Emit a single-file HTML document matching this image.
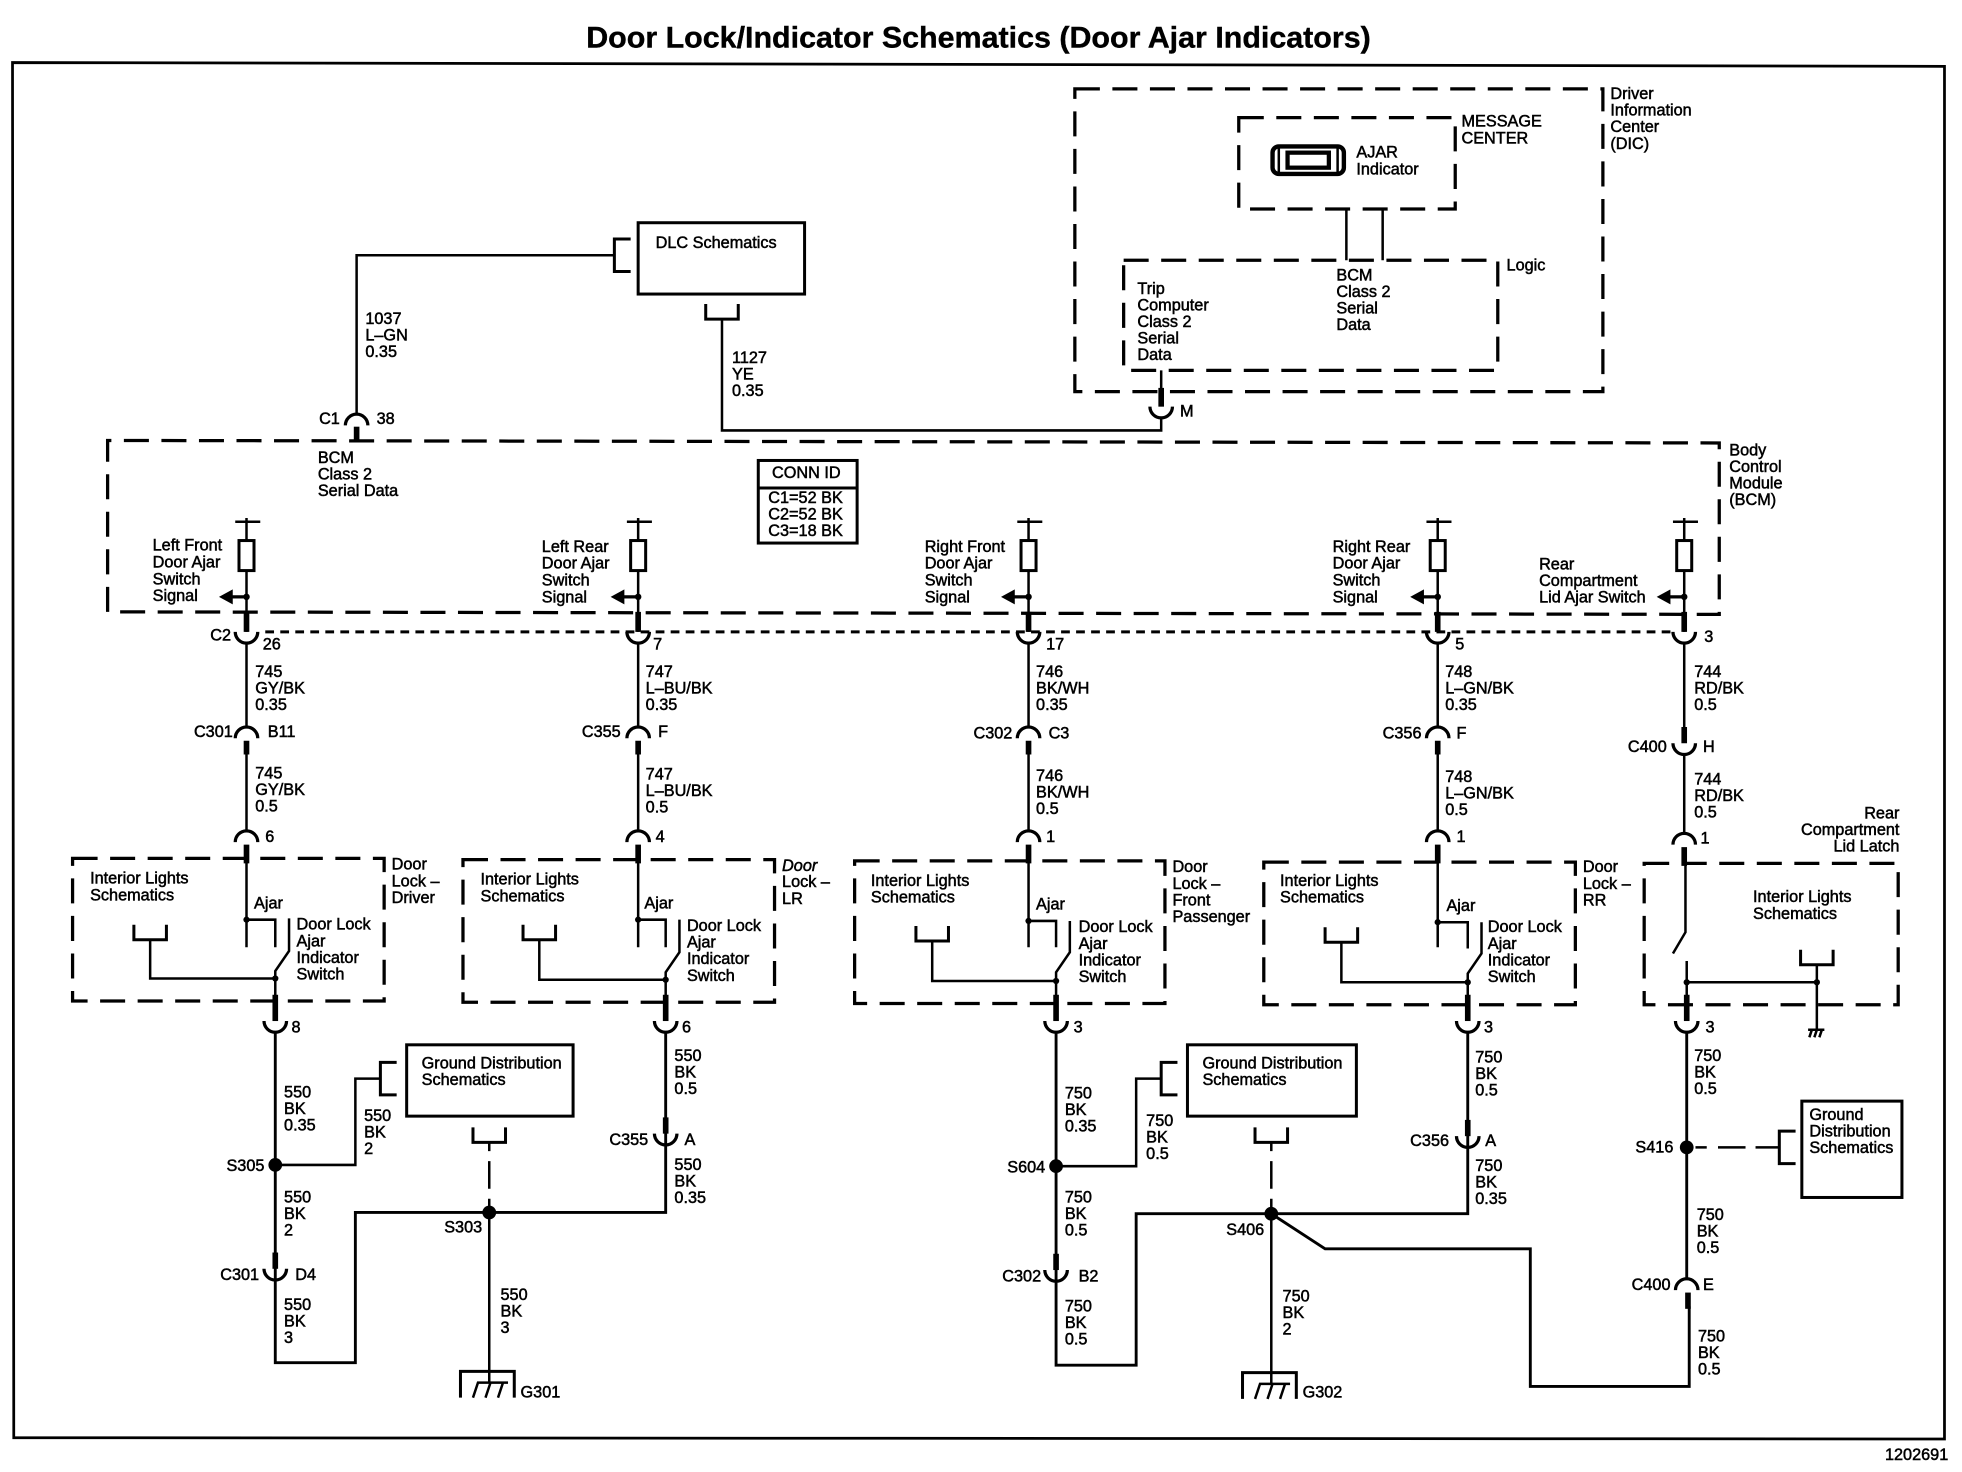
<!DOCTYPE html>
<html lang="en">
<head>
<meta charset="utf-8">
<title>Door Lock/Indicator Schematics (Door Ajar Indicators)</title>
<style>
html,body{margin:0;padding:0;background:#fff}
svg{display:block}
text{font-family:"Liberation Sans",Arial,sans-serif;font-size:13px;fill:#000;stroke:#000;stroke-width:.4}
.w{fill:none;stroke:#000;stroke-width:2}
.t{fill:none;stroke:#000;stroke-width:4.5}
.d{fill:none;stroke:#000;stroke-width:2.6;stroke-dasharray:20 10}
.c{fill:none;stroke:#000;stroke-width:2.6}
.b{fill:none;stroke:#000;stroke-width:2.4}
</style>
</head>
<body>
<svg xmlns="http://www.w3.org/2000/svg" width="1962" height="1472" viewBox="0 0 1568 1176.4">
<defs>
<path id="arch" class="c" d="M-9 0A9 9 0 0 1 9 0"/>
<path id="cup" class="c" d="M-9 0A9 9 0 0 0 9 0"/>
<g id="fuse">
<path class="w" d="M-9 0H11M0 -3V15M0 39V88"/>
<rect class="b" x="-6" y="15" width="12" height="24" fill="#fff"/>
<path class="t" style="stroke-width:2.6" d="M-12 60H0"/>
<path d="M-22 60L-11 54V66Z"/>
<circle cx="0" cy="60" r="2.6"/>
<path class="t" d="M0 72V88"/>
</g>
<path id="ubr" class="b" d="M-13 0V12H13V0"/>
<path id="lbr" class="b" d="M13 -13H0V13H13"/>
<g id="gnd">
<path class="b" d="M0 21V0H43V21"/>
<path class="w" d="M10 21L14 9H38M20 21L24 9M30 21L34 9"/>
</g>
</defs>

<text x="782" y="38" text-anchor="middle" textLength="627" lengthAdjust="spacingAndGlyphs" style="font-size:23.5px;font-weight:bold;stroke-width:.3">Door Lock/Indicator Schematics (Door Ajar Indicators)</text>
<path d="M10 50L1554 53V1150L11 1149Z" fill="none" stroke="#000" stroke-width="2.2"/>

<!-- DIC -->
<rect class="d" x="859" y="71" width="422" height="242"/>
<rect class="d" x="990" y="94" width="173" height="73"/>
<rect class="d" x="898" y="208" width="299" height="88"/>
<path class="w" d="M1076 167V208M1105 167V208"/>
<rect x="1017" y="117" width="57" height="22" rx="5" fill="none" stroke="#000" stroke-width="3.5"/>
<rect x="1029" y="122" width="33" height="12" fill="none" stroke="#000" stroke-width="3.4"/>
<path class="w" d="M1022 118V138M1069 118V138"/>
<text x="1287" y="79">Driver<tspan x="1287" dy="13.3">Information</tspan><tspan x="1287" dy="13.3">Center</tspan><tspan x="1287" dy="13.3">(DIC)</tspan></text>
<text x="1168" y="101">MESSAGE<tspan x="1168" dy="13.5">CENTER</tspan></text>
<text x="1084" y="126">AJAR<tspan x="1084" dy="13.3">Indicator</tspan></text>
<text x="1204" y="216">Logic</text>
<text x="1068" y="224">BCM<tspan x="1068" dy="13.2">Class 2</tspan><tspan x="1068" dy="13.2">Serial</tspan><tspan x="1068" dy="13.2">Data</tspan></text>
<text x="909" y="235">Trip<tspan x="909" dy="13.2">Computer</tspan><tspan x="909" dy="13.2">Class 2</tspan><tspan x="909" dy="13.2">Serial</tspan><tspan x="909" dy="13.2">Data</tspan></text>

<!-- M connector and 1127 -->
<path class="w" d="M928 296V312"/><path class="t" d="M928 310V325"/>
<use href="#cup" x="928" y="325"/>
<path class="w" d="M928 334V344H577V256"/>
<use href="#ubr" x="577" y="243"/>
<text x="943" y="333">M</text>
<text x="585" y="290">1127<tspan x="585" dy="13.2">YE</tspan><tspan x="585" dy="13.2">0.35</tspan></text>

<!-- DLC -->
<rect class="b" x="510" y="178" width="133" height="57"/>
<text x="524" y="198">DLC Schematics</text>
<path class="w" d="M285 331V204H491"/>
<use href="#lbr" x="491" y="204"/>
<text x="292" y="259">1037<tspan x="292" dy="13.2">L–GN</tspan><tspan x="292" dy="13.2">0.35</tspan></text>
<use href="#arch" x="285" y="340"/>
<path class="t" d="M285 341V353"/>
<text x="255" y="339">C1</text><text x="301" y="339">38</text>

<!-- BCM -->
<path class="d" d="M86 489V352L1374 354V491L86 489"/>
<text x="254" y="370">BCM<tspan x="254" dy="13.2">Class 2</tspan><tspan x="254" dy="13.2">Serial Data</tspan></text>
<rect class="b" x="606" y="368" width="79" height="66"/>
<path class="b" d="M606 390H685"/>
<text x="617" y="382">CONN ID</text>
<text x="614" y="402">C1=52 BK<tspan x="614" dy="13.2">C2=52 BK</tspan><tspan x="614" dy="13.2">C3=18 BK</tspan></text>
<text x="1382" y="364">Body<tspan x="1382" dy="13.2">Control</tspan><tspan x="1382" dy="13.2">Module</tspan><tspan x="1382" dy="13.2">(BCM)</tspan></text>
<path d="M212 505H1340" fill="none" stroke="#000" stroke-width="2.4" stroke-dasharray="7 5"/>

<use href="#fuse" x="197" y="417"/><use href="#fuse" x="510" y="417"/><use href="#fuse" x="822" y="417"/><use href="#fuse" x="1149" y="417"/><use href="#fuse" x="1346" y="417"/>
<use href="#cup" x="197" y="505"/><use href="#cup" x="510" y="505"/><use href="#cup" x="822" y="505"/><use href="#cup" x="1149" y="505"/><use href="#cup" x="1346" y="505"/>
<text x="122" y="440">Left Front<tspan x="122" dy="13.5">Door Ajar</tspan><tspan x="122" dy="13.5">Switch</tspan><tspan x="122" dy="13.5">Signal</tspan></text>
<text x="433" y="441">Left Rear<tspan x="433" dy="13.5">Door Ajar</tspan><tspan x="433" dy="13.5">Switch</tspan><tspan x="433" dy="13.5">Signal</tspan></text>
<text x="739" y="441">Right Front<tspan x="739" dy="13.5">Door Ajar</tspan><tspan x="739" dy="13.5">Switch</tspan><tspan x="739" dy="13.5">Signal</tspan></text>
<text x="1065" y="441">Right Rear<tspan x="1065" dy="13.5">Door Ajar</tspan><tspan x="1065" dy="13.5">Switch</tspan><tspan x="1065" dy="13.5">Signal</tspan></text>
<text x="1230" y="455">Rear<tspan x="1230" dy="13.3">Compartment</tspan><tspan x="1230" dy="13.3">Lid Ajar Switch</tspan></text>
<text x="168" y="512">C2</text><text x="210" y="519">26</text><text x="522" y="519">7</text><text x="836" y="519">17</text><text x="1163" y="519">5</text><text x="1362" y="513">3</text>

<!-- Channel 1 -->
<path class="w" d="M197 514V581M197 603V664M197 687V757"/>
<path class="t" d="M197 592V603M197 675V690"/>
<use href="#arch" x="197" y="590"/><use href="#arch" x="197" y="673"/>
<text x="204" y="541">745<tspan x="204" dy="13.2">GY/BK</tspan><tspan x="204" dy="13.2">0.35</tspan></text>
<text x="155" y="589">C301</text><text x="214" y="589">B11</text>
<text x="204" y="622">745<tspan x="204" dy="13.2">GY/BK</tspan><tspan x="204" dy="13.2">0.5</tspan></text>
<text x="212" y="673">6</text>
<rect class="d" x="58" y="686" width="249" height="114"/>
<text x="313" y="695">Door<tspan x="313" dy="13.3">Lock –</tspan><tspan x="313" dy="13.3">Driver</tspan></text>
<text x="72" y="706">Interior Lights<tspan x="72" dy="13.5">Schematics</tspan></text>
<text x="203" y="726">Ajar</text>
<text x="237" y="743">Door Lock<tspan x="237" dy="13.3">Ajar</tspan><tspan x="237" dy="13.3">Indicator</tspan><tspan x="237" dy="13.3">Switch</tspan></text>
<circle cx="197" cy="735" r="2.5"/>
<path class="w" d="M197 735H220V757M231 734V760L220 776V815"/>
<use href="#ubr" x="120" y="739"/>
<path class="w" d="M120 751V782H220"/><circle cx="220" cy="782" r="2.5"/>
<path class="t" d="M220 795V816"/><use href="#cup" x="220" y="816"/>
<text x="233" y="825">8</text>
<path class="w" style="stroke-width:2.3" d="M220 825V1089H284V969H532V825"/>
<path class="w" d="M220 931H284V862H304"/>
<use href="#lbr" x="304" y="862"/>
<circle cx="220" cy="931" r="5.5"/>
<text x="181" y="936">S305</text>
<text x="227" y="877">550<tspan x="227" dy="13.2">BK</tspan><tspan x="227" dy="13.2">0.35</tspan></text>
<text x="291" y="896">550<tspan x="291" dy="13.2">BK</tspan><tspan x="291" dy="13.2">2</tspan></text>
<rect class="b" x="325" y="835" width="133" height="57"/>
<text x="337" y="854">Ground Distribution<tspan x="337" dy="13.2">Schematics</tspan></text>
<use href="#ubr" x="391" y="901"/>
<path class="w" d="M391 913V920M391 928V950M391 958V966M391 969V1105"/>
<circle cx="391" cy="969" r="5.5"/>
<text x="355" y="985">S303</text>
<text x="400" y="1039">550<tspan x="400" dy="13.2">BK</tspan><tspan x="400" dy="13.2">3</tspan></text>
<use href="#gnd" x="368" y="1096"/><text x="416" y="1117">G301</text>
<text x="227" y="961">550<tspan x="227" dy="13.2">BK</tspan><tspan x="227" dy="13.2">2</tspan></text>
<path class="t" d="M220 1001V1014"/><use href="#cup" x="220" y="1014"/>
<text x="176" y="1023">C301</text><text x="236" y="1023">D4</text>
<text x="227" y="1047">550<tspan x="227" dy="13.2">BK</tspan><tspan x="227" dy="13.2">3</tspan></text>

<!-- Channel 2 -->
<path class="w" d="M510 514V581M510 603V664M510 687V757"/>
<path class="t" d="M510 592V603M510 675V690"/>
<use href="#arch" x="510" y="590"/><use href="#arch" x="510" y="673"/>
<text x="516" y="541">747<tspan x="516" dy="13.2">L–BU/BK</tspan><tspan x="516" dy="13.2">0.35</tspan></text>
<text x="465" y="589">C355</text><text x="526" y="589">F</text>
<text x="516" y="623">747<tspan x="516" dy="13.2">L–BU/BK</tspan><tspan x="516" dy="13.2">0.5</tspan></text>
<text x="524" y="673">4</text>
<rect class="d" x="370" y="687" width="249" height="114"/>
<text x="625" y="696" font-style="italic">Door</text><text x="625" y="709">Lock –<tspan x="625" dy="13.3">LR</tspan></text>
<text x="384" y="707">Interior Lights<tspan x="384" dy="13.3">Schematics</tspan></text>
<text x="515" y="726">Ajar</text>
<text x="549" y="744">Door Lock<tspan x="549" dy="13.3">Ajar</tspan><tspan x="549" dy="13.3">Indicator</tspan><tspan x="549" dy="13.3">Switch</tspan></text>
<circle cx="510" cy="735" r="2.5"/>
<path class="w" d="M510 735H532V757M543 735V761L532 777V815"/>
<use href="#ubr" x="431" y="739"/>
<path class="w" d="M431 751V783H532"/><circle cx="532" cy="783" r="2.5"/>
<path class="t" d="M532 795V816"/><use href="#cup" x="532" y="816"/>
<text x="545" y="825">6</text>
<text x="539" y="848">550<tspan x="539" dy="13.2">BK</tspan><tspan x="539" dy="13.2">0.5</tspan></text>
<path class="t" d="M532 893V906"/><use href="#cup" x="532" y="906"/>
<text x="487" y="915">C355</text><text x="547" y="915">A</text>
<text x="539" y="935">550<tspan x="539" dy="13.2">BK</tspan><tspan x="539" dy="13.2">0.35</tspan></text>

<!-- Channel 3 -->
<path class="w" d="M822 514V581M822 603V664M822 687V757"/>
<path class="t" d="M822 592V603M822 675V690"/>
<use href="#arch" x="822" y="590"/><use href="#arch" x="822" y="673"/>
<text x="828" y="541">746<tspan x="828" dy="13.2">BK/WH</tspan><tspan x="828" dy="13.2">0.35</tspan></text>
<text x="778" y="590">C302</text><text x="838" y="590">C3</text>
<text x="828" y="624">746<tspan x="828" dy="13.2">BK/WH</tspan><tspan x="828" dy="13.2">0.5</tspan></text>
<text x="836" y="673">1</text>
<rect class="d" x="683" y="688" width="248" height="114"/>
<text x="937" y="697">Door<tspan x="937" dy="13.3">Lock –</tspan><tspan x="937" dy="13.3">Front</tspan><tspan x="937" dy="13.3">Passenger</tspan></text>
<text x="696" y="708">Interior Lights<tspan x="696" dy="13.3">Schematics</tspan></text>
<text x="828" y="727">Ajar</text>
<text x="862" y="745">Door Lock<tspan x="862" dy="13.3">Ajar</tspan><tspan x="862" dy="13.3">Indicator</tspan><tspan x="862" dy="13.3">Switch</tspan></text>
<circle cx="822" cy="736" r="2.5"/>
<path class="w" d="M822 736H844V757M855 736V761L844 777V815"/>
<use href="#ubr" x="745" y="740"/>
<path class="w" d="M745 752V784H844"/><circle cx="844" cy="784" r="2.5"/>
<path class="t" d="M844 795V816"/><use href="#cup" x="844" y="816"/>
<text x="858" y="825">3</text>
<path class="w" style="stroke-width:2.3" d="M844 825V1091H908V970H1173V825"/>
<path class="w" d="M844 932H908V862H928"/>
<use href="#lbr" x="928" y="862"/>
<circle cx="844" cy="932" r="5.5"/>
<text x="805" y="937">S604</text>
<text x="851" y="878">750<tspan x="851" dy="13.2">BK</tspan><tspan x="851" dy="13.2">0.35</tspan></text>
<text x="916" y="900">750<tspan x="916" dy="13.2">BK</tspan><tspan x="916" dy="13.2">0.5</tspan></text>
<rect class="b" x="949" y="835" width="135" height="57"/>
<text x="961" y="854">Ground Distribution<tspan x="961" dy="13.2">Schematics</tspan></text>
<use href="#ubr" x="1016" y="901"/>
<path class="w" d="M1016 913V920M1016 928V950M1016 958V966M1016 970V1106"/>
<path class="w" style="stroke-width:2.3" d="M1016 970L1059 998H1223V1108H1350V1044"/>
<circle cx="1016" cy="970" r="5.5"/>
<text x="980" y="987">S406</text>
<text x="1025" y="1040">750<tspan x="1025" dy="13.2">BK</tspan><tspan x="1025" dy="13.2">2</tspan></text>
<use href="#gnd" x="993" y="1097"/><text x="1041" y="1117">G302</text>
<text x="851" y="961">750<tspan x="851" dy="13.2">BK</tspan><tspan x="851" dy="13.2">0.5</tspan></text>
<path class="t" d="M844 1002V1015"/><use href="#cup" x="844" y="1015"/>
<text x="801" y="1024">C302</text><text x="862" y="1024">B2</text>
<text x="851" y="1048">750<tspan x="851" dy="13.2">BK</tspan><tspan x="851" dy="13.2">0.5</tspan></text>

<!-- Channel 4 -->
<path class="w" d="M1149 514V581M1149 603V664M1149 687V757"/>
<path class="t" d="M1149 592V603M1149 675V690"/>
<use href="#arch" x="1149" y="590"/><use href="#arch" x="1149" y="673"/>
<text x="1155" y="541">748<tspan x="1155" dy="13.3">L–GN/BK</tspan><tspan x="1155" dy="13.3">0.35</tspan></text>
<text x="1105" y="590">C356</text><text x="1164" y="590">F</text>
<text x="1155" y="625">748<tspan x="1155" dy="13.2">L–GN/BK</tspan><tspan x="1155" dy="13.2">0.5</tspan></text>
<text x="1164" y="673">1</text>
<rect class="d" x="1010" y="689" width="249" height="114"/>
<text x="1265" y="697">Door<tspan x="1265" dy="13.3">Lock –</tspan><tspan x="1265" dy="13.3">RR</tspan></text>
<text x="1023" y="708">Interior Lights<tspan x="1023" dy="13.3">Schematics</tspan></text>
<text x="1156" y="728">Ajar</text>
<text x="1189" y="745">Door Lock<tspan x="1189" dy="13.3">Ajar</tspan><tspan x="1189" dy="13.3">Indicator</tspan><tspan x="1189" dy="13.3">Switch</tspan></text>
<circle cx="1149" cy="737" r="2.5"/>
<path class="w" d="M1149 737H1173V758M1184 737V762L1173 778V815"/>
<use href="#ubr" x="1072" y="741"/>
<path class="w" d="M1072 753V785H1173"/><circle cx="1173" cy="785" r="2.5"/>
<path class="t" d="M1173 795V816"/><use href="#cup" x="1173" y="816"/>
<text x="1186" y="825">3</text>
<text x="1179" y="849">750<tspan x="1179" dy="13.2">BK</tspan><tspan x="1179" dy="13.2">0.5</tspan></text>
<path class="t" d="M1173 895V908"/><use href="#cup" x="1173" y="908"/>
<text x="1127" y="916">C356</text><text x="1187" y="916">A</text>
<text x="1179" y="936">750<tspan x="1179" dy="13.2">BK</tspan><tspan x="1179" dy="13.2">0.35</tspan></text>

<!-- Channel 5 -->
<path class="w" d="M1346 514V581M1346 603V666"/>
<path class="t" d="M1346 581V594M1346 677V692"/>
<use href="#cup" x="1346" y="594"/><use href="#arch" x="1346" y="675"/>
<text x="1354" y="541">744<tspan x="1354" dy="13.3">RD/BK</tspan><tspan x="1354" dy="13.3">0.5</tspan></text>
<text x="1301" y="601">C400</text><text x="1361" y="601">H</text>
<text x="1354" y="627">744<tspan x="1354" dy="13.2">RD/BK</tspan><tspan x="1354" dy="13.2">0.5</tspan></text>
<text x="1359" y="674">1</text>
<text x="1518" y="654" text-anchor="end">Rear<tspan x="1518" dy="13.3">Compartment</tspan><tspan x="1518" dy="13.3">Lid Latch</tspan></text>
<rect class="d" x="1314" y="690" width="203" height="113"/>
<text x="1401" y="721">Interior Lights<tspan x="1401" dy="13.3">Schematics</tspan></text>
<path class="w" d="M1347 690V745L1337 762M1348 768V815M1348 785H1452M1452 771V822"/>
<use href="#ubr" x="1452" y="759"/>
<circle cx="1348" cy="785" r="2.5"/><circle cx="1452" cy="785" r="2.5"/>
<path class="w" d="M1445 823H1458M1446 829L1448 823M1450 829L1452 823M1454 829L1456 823"/>
<path class="t" d="M1348 795V816"/><use href="#cup" x="1348" y="816"/>
<text x="1363" y="825">3</text>
<path class="w" style="stroke-width:2.3" d="M1348 825V1022"/>
<text x="1354" y="848">750<tspan x="1354" dy="13.2">BK</tspan><tspan x="1354" dy="13.2">0.5</tspan></text>
<circle cx="1348" cy="917" r="5.5"/>
<text x="1307" y="921">S416</text>
<path class="w" d="M1355 917H1364M1373 917H1395M1403 917H1422"/>
<use href="#lbr" x="1422" y="917"/>
<rect class="b" x="1440" y="880" width="80" height="77"/>
<text x="1446" y="895">Ground<tspan x="1446" dy="13.2">Distribution</tspan><tspan x="1446" dy="13.2">Schematics</tspan></text>
<text x="1356" y="975">750<tspan x="1356" dy="13.2">BK</tspan><tspan x="1356" dy="13.2">0.5</tspan></text>
<use href="#arch" x="1348" y="1031"/>
<path class="t" d="M1349 1033V1046"/>
<text x="1304" y="1031">C400</text><text x="1361" y="1031">E</text>
<text x="1357" y="1072">750<tspan x="1357" dy="13.2">BK</tspan><tspan x="1357" dy="13.2">0.5</tspan></text>

<text x="1557" y="1167" text-anchor="end">1202691</text>
</svg>
</body>
</html>
